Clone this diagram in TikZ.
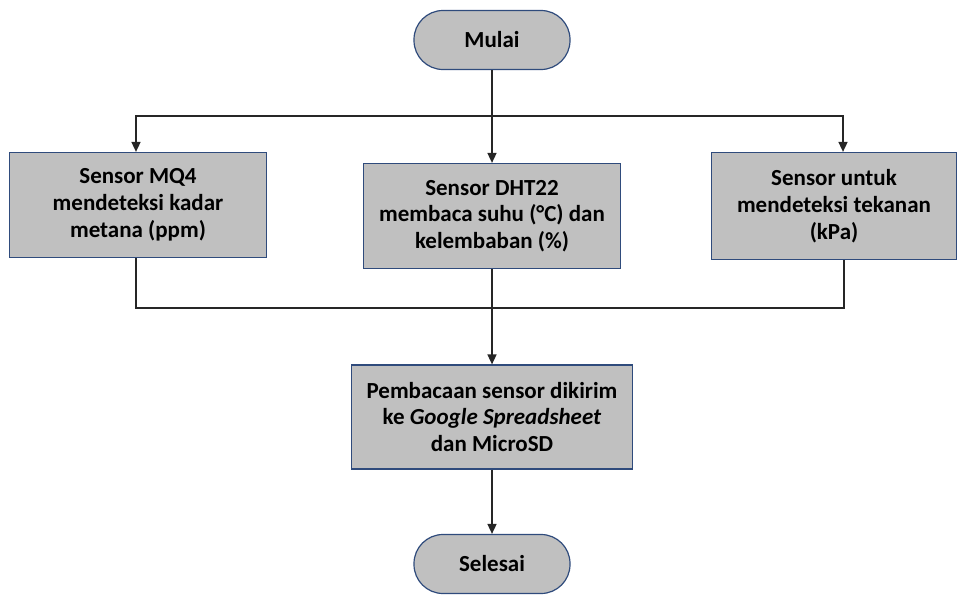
\documentclass[tikz,border=0pt]{standalone}
\usepackage{fontspec}
\setmainfont{Carlito}
\usetikzlibrary{arrows.meta}
\definecolor{boxfill}{HTML}{C0C0C0}
\definecolor{boxline}{HTML}{2F4B7C}

\begin{document}
\begin{tikzpicture}[x=0.5pt, y=-0.5pt, thick, draw=black!85, >={Triangle[width=4.5pt,length=5pt]},
  main/.style = {draw=boxline, fill=boxfill, line width=0.6pt, align=center, inner sep=2pt, font=\bfseries\fontsize{11.5}{13.4}\selectfont},
  proc/.style = {main, minimum width=128.5pt, minimum height=52.5pt},
  term/.style = {main, rounded corners=14.5pt, minimum width=78pt, minimum height=29.5pt}]
\useasboundingbox (0,0) rectangle (957,594);
\node[term] (mulai) at (492,40) {Mulai};
\node[proc] (mq4) at (138,205) {Sensor MQ4\\mendeteksi kadar\\metana (ppm)};
\node[proc] (dht) at (492,216) {Sensor DHT22\\membaca suhu (°C) dan\\kelembaban (\%)};
\node[proc, minimum width=122.5pt, minimum height=53.5pt] (tekanan) at (834,206) {Sensor untuk\\mendeteksi tekanan\\(kPa)};
\node[proc, minimum width=140.5pt, minimum height=52pt] (kirim) at (492,417) {Pembacaan sensor dikirim\\ke \textit{Google Spreadsheet}\\dan MicroSD};
\node[term] (selesai) at (492,564) {Selesai};
\coordinate (split) at (492,116);
\coordinate (join) at (492,308);
% cabang ke tiga sensor
\draw[->] (mulai) -- (dht);
\draw[->] (split) -| ([xshift=-1pt]mq4.north);
\draw[->] (split) -| ([xshift=4.5pt]tekanan.north);
% gabung lagi
\draw ([xshift=-1pt]mq4.south) |- (join) -| ([xshift=5pt]tekanan.south);
\draw[->] (dht) -- (kirim);
\draw[->] (kirim) -- (selesai);
\end{tikzpicture}
\end{document}
